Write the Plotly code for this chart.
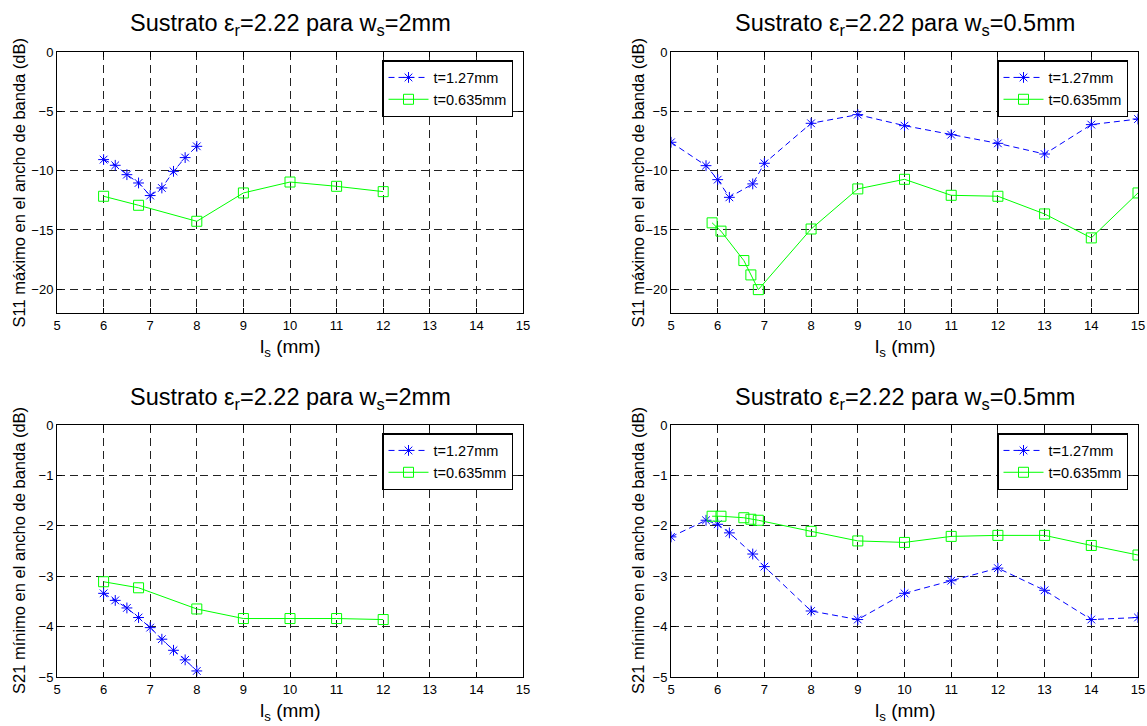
import plotly.graph_objects as go

# ---------------- data ----------------
# Top-left: S11 max, w_s = 2 mm
tl_x_thick = [6, 6.25, 6.5, 6.75, 7, 7.25, 7.5, 7.75, 8]
tl_y_thick = [-9.07, -9.55, -10.34, -11.04, -12.1, -11.46, -10.06, -8.9, -7.95]
tl_x_thin = [6, 6.75, 8, 9, 10, 11, 12]
tl_y_thin = [-12.16, -12.92, -14.27, -11.88, -10.96, -11.32, -11.77]

# Top-right: S11 max, w_s = 0.5 mm
tr_x_thick = [5, 5.75, 6, 6.25, 6.75, 7, 8, 9, 10, 11, 12, 13, 14, 15]
tr_y_thick = [-7.61, -9.58, -10.76, -12.25, -11.12, -9.38, -6.01, -5.28, -6.21, -6.97, -7.7, -8.6, -6.12, -5.65]
tr_x_thin = [5.88, 6.07, 6.56, 6.71, 6.87, 8, 9, 10, 11, 12, 13, 14, 15]
tr_y_thin = [-14.4, -15.1, -17.58, -18.79, -20.03, -14.92, -11.54, -10.73, -12.08, -12.16, -13.65, -15.67, -11.88]

# Bottom-left: S21 min, w_s = 2 mm
bl_x_thick = [6, 6.25, 6.5, 6.75, 7, 7.25, 7.5, 7.75, 8]
bl_y_thick = [-3.34, -3.48, -3.63, -3.82, -4.02, -4.25, -4.47, -4.66, -4.88]
bl_x_thin = [6, 6.75, 8, 9, 10, 11, 12]
bl_y_thin = [-3.11, -3.23, -3.65, -3.84, -3.84, -3.84, -3.86]

# Bottom-right: S21 min, w_s = 0.5 mm
br_x_thick = [5, 5.75, 6, 6.25, 6.75, 7, 8, 9, 10, 11, 12, 13, 14, 15]
br_y_thick = [-2.22, -1.89, -1.97, -2.14, -2.56, -2.81, -3.69, -3.86, -3.34, -3.09, -2.84, -3.28, -3.86, -3.82]
br_x_thin = [5.88, 6.07, 6.56, 6.71, 6.87, 8, 9, 10, 11, 12, 13, 14, 15]
br_y_thin = [-1.81, -1.81, -1.84, -1.87, -1.89, -2.11, -2.30, -2.33, -2.21, -2.19, -2.19, -2.39, -2.58]

series_names = ["t=1.27mm", "t=0.635mm"]
titles = ["Sustrato ε<sub>r</sub>=2.22 para w<sub>s</sub>=2mm",
          "Sustrato ε<sub>r</sub>=2.22 para w<sub>s</sub>=0.5mm",
          "Sustrato ε<sub>r</sub>=2.22 para w<sub>s</sub>=2mm",
          "Sustrato ε<sub>r</sub>=2.22 para w<sub>s</sub>=0.5mm"]
ylabels = ["S11 máximo en el ancho de banda (dB)",
           "S11 máximo en el ancho de banda (dB)",
           "S21 mínimo en el ancho de banda (dB)",
           "S21 mínimo en el ancho de banda (dB)"]
xlabel = "l<sub>s</sub> (mm)"
x_ticks = [5, 6, 7, 8, 9, 10, 11, 12, 13, 14, 15]
y_ticks_top = [-20, -15, -10, -5, 0]
y_ticks_bottom = [-5, -4, -3, -2, -1, 0]

# ---------------- layout geometry ----------------
W, H = 1147, 726
FONT = "Liberation Sans, Arial, Helvetica, sans-serif"
col_px = [(57, 523), (671, 1138)]
ylab_px = [19, 638]
row_px = [(52, 313), (425, 677)]

panels = [
    (tl_x_thick, tl_y_thick, tl_x_thin, tl_y_thin, 0, 0, [-22, 0], y_ticks_top),
    (tr_x_thick, tr_y_thick, tr_x_thin, tr_y_thin, 0, 1, [-22, 0], y_ticks_top),
    (bl_x_thick, bl_y_thick, bl_x_thin, bl_y_thin, 1, 0, [-5, 0], y_ticks_bottom),
    (br_x_thick, br_y_thick, br_x_thin, br_y_thin, 1, 1, [-5, 0], y_ticks_bottom),
]

fig = go.Figure()
annotations = []
layout_upd = {}

for i, (xa, ya, xb, yb, r, c, yr, yt) in enumerate(panels):
    n = i + 1
    xs = "" if n == 1 else str(n)
    lg = "legend" if n == 1 else f"legend{n}"
    fig.add_trace(go.Scatter(
        x=xa, y=ya, mode="lines+markers", name=series_names[0],
        xaxis=f"x{xs}", yaxis=f"y{xs}", legend=lg,
        line=dict(color="#0000ff", width=1, dash="6px,4px"),
        marker=dict(symbol="asterisk-open", size=9, color="#0000ff",
                    line=dict(color="#0000ff", width=1)),
    ))
    fig.add_trace(go.Scatter(
        x=xb, y=yb, mode="lines+markers", name=series_names[1],
        xaxis=f"x{xs}", yaxis=f"y{xs}", legend=lg,
        line=dict(color="#00ff00", width=1),
        marker=dict(symbol="square-open", size=10, color="#00ff00",
                    line=dict(color="#00ff00", width=1)),
    ))
    x0, x1 = col_px[c]
    y0, y1 = row_px[r]
    dom_x = [x0 / W, x1 / W]
    dom_y = [1 - y1 / H, 1 - y0 / H]
    axis_common = dict(
        showline=True, linecolor="black", linewidth=1, mirror="allticks",
        ticks="inside", ticklen=5, tickcolor="black", tickwidth=1,
        showgrid=True, gridcolor="#222222", gridwidth=1, griddash="8px,5px",
        zeroline=False, automargin=False,
        tickfont=dict(family=FONT, size=13, color="black"),
    )
    layout_upd[f"xaxis{xs}"] = dict(axis_common, domain=dom_x, range=[5, 15],
                                    tickvals=x_ticks, anchor=f"y{xs}")
    layout_upd[f"yaxis{xs}"] = dict(axis_common, domain=dom_y, range=yr,
                                    tickvals=yt, anchor=f"x{xs}")
    layout_upd[lg] = dict(
        x=(x1 - 10) / W, y=1 - (y0 + 8) / H, xanchor="right", yanchor="top",
        xref="paper", yref="paper",
        bgcolor="white", bordercolor="black", borderwidth=1.5,
        font=dict(family=FONT, size=14.5, color="black"),
        tracegroupgap=0, itemwidth=40,
    )
    cx = (x0 + x1) / 2 / W
    annotations.append(dict(
        text=titles[i], x=cx, y=1 - (y0 - 27) / H, xref="paper", yref="paper",
        xanchor="center", yanchor="middle", showarrow=False,
        font=dict(family=FONT, size=23.5, color="black")))
    annotations.append(dict(
        text=xlabel, x=cx, y=1 - (y1 + 35) / H, xref="paper", yref="paper",
        xanchor="center", yanchor="middle", showarrow=False,
        font=dict(family=FONT, size=19, color="black")))
    annotations.append(dict(
        text=ylabels[i], x=ylab_px[c] / W, y=1 - ((y0 + y1) / 2) / H,
        xref="paper", yref="paper", xanchor="center", yanchor="middle",
        textangle=-90, showarrow=False,
        font=dict(family=FONT, size=16.5, color="black")))

fig.update_layout(
    template="none",
    width=W, height=H, margin=dict(l=0, r=0, t=0, b=0, pad=0),
    paper_bgcolor="white", plot_bgcolor="white",
    annotations=annotations, showlegend=True, **layout_upd,
)

fig.write_html("out.html", config={"displayModeBar": False},
               post_script="document.body.style.margin='0px';document.body.style.overflow='hidden';")
